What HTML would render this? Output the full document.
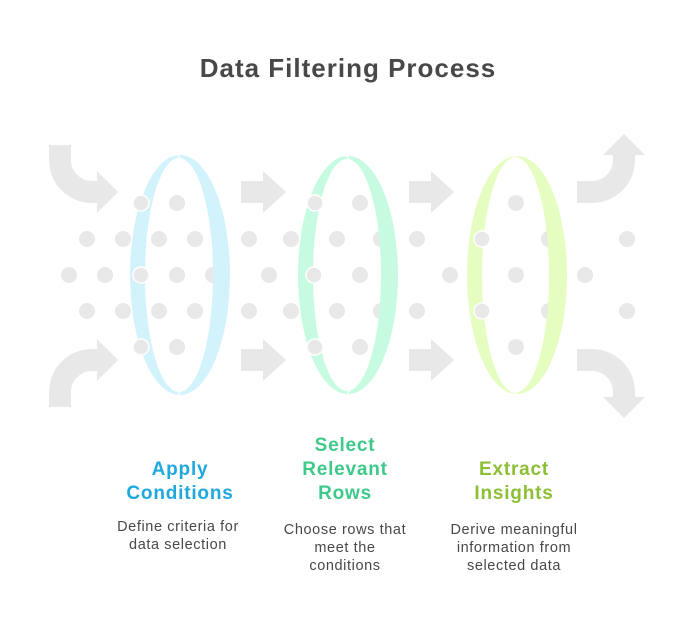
<!DOCTYPE html>
<html><head><meta charset="utf-8"><style>
html,body{margin:0;padding:0;background:#fff;}
svg{display:block}
text{font-family:"Liberation Sans",sans-serif;}
</style></head><body>
<svg width="696" height="624" viewBox="0 0 696 624" xmlns="http://www.w3.org/2000/svg">
<rect width="696" height="624" fill="#fff"/>
<text x="348" y="77" text-anchor="middle" font-size="26" font-weight="bold" fill="#484848" letter-spacing="1">Data Filtering Process</text>

<g fill="none" stroke="#e8e8e8" stroke-width="22">
<path d="M60 145 L60 160 A32 32 0 0 0 92 192 L99 192"/>
<path d="M60 407 L60 392 A32 32 0 0 1 92 360 L99 360"/>
<path d="M577 192 L592 192 A32 32 0 0 0 624 160 L624 154"/>
<path d="M577 360 L592 360 A32 32 0 0 1 624 392 L624 398"/>
</g>
<g fill="#e8e8e8">
<polygon points="97,171 118,192 97,213"/>
<polygon points="97,339 118,360 97,381"/>
<polygon points="603,155 624,134 645,155"/>
<polygon points="603,397 624,418 645,397"/>
<path d="M241 181 H263 V171 L286 192 L263 213 V203 H241Z"/>
<path d="M241 349 H263 V339 L286 360 L263 381 V371 H241Z"/>
<path d="M409 181 H431 V171 L454 192 L431 213 V203 H409Z"/>
<path d="M409 349 H431 V339 L454 360 L431 381 V371 H409Z"/>
</g>

<g fill="#e8e8e8">
<circle cx="177" cy="203" r="8"/>
<circle cx="87" cy="239" r="8"/><circle cx="123" cy="239" r="8"/><circle cx="159" cy="239" r="8"/><circle cx="195" cy="239" r="8"/>
<circle cx="69" cy="275" r="8"/><circle cx="105" cy="275" r="8"/><circle cx="177" cy="275" r="8"/><circle cx="213" cy="275" r="8"/>
<circle cx="87" cy="311" r="8"/><circle cx="123" cy="311" r="8"/><circle cx="159" cy="311" r="8"/><circle cx="195" cy="311" r="8"/>
<circle cx="177" cy="347" r="8"/>
<circle cx="360" cy="203" r="8"/>
<circle cx="249" cy="239" r="8"/><circle cx="291" cy="239" r="8"/><circle cx="337" cy="239" r="8"/><circle cx="381" cy="239" r="8"/><circle cx="417" cy="239" r="8"/>
<circle cx="269" cy="275" r="8"/><circle cx="360" cy="275" r="8"/><circle cx="450" cy="275" r="8"/>
<circle cx="249" cy="311" r="8"/><circle cx="291" cy="311" r="8"/><circle cx="337" cy="311" r="8"/><circle cx="381" cy="311" r="8"/><circle cx="417" cy="311" r="8"/>
<circle cx="360" cy="347" r="8"/>
<circle cx="516" cy="203" r="8"/>
<circle cx="549" cy="239" r="8"/><circle cx="627" cy="239" r="8"/>
<circle cx="516" cy="275" r="8"/><circle cx="585" cy="275" r="8"/>
<circle cx="549" cy="311" r="8"/><circle cx="627" cy="311" r="8"/>
<circle cx="516" cy="347" r="8"/>
</g>

<g fill-rule="evenodd">
<path fill="#d3f3fc" d="M130 275 A50 120 0 1 0 230 275 A50 120 0 1 0 130 275Z M145 275 A34 117 0 1 0 213 275 A34 117 0 1 0 145 275Z"/>
<path fill="#c6fbe2" d="M298 275 A50 119 0 1 0 398 275 A50 119 0 1 0 298 275Z M313 275 A34 116 0 1 0 381 275 A34 116 0 1 0 313 275Z"/>
<path fill="#e6fdc1" d="M467 275 A50 119 0 1 0 567 275 A50 119 0 1 0 467 275Z M482 275 A33 116 0 1 0 549 275 A33 116 0 1 0 482 275Z"/>
</g>
<g stroke="#fff" stroke-width="1.5">
<line x1="178" y1="155" x2="183" y2="163"/><line x1="178" y1="395" x2="183" y2="387"/>
<line x1="347" y1="156" x2="352" y2="164"/><line x1="347" y1="394" x2="352" y2="386"/>
<line x1="514" y1="156" x2="519" y2="164"/><line x1="514" y1="394" x2="519" y2="386"/>
</g>
<g fill="#e8e8e8" stroke="#fff" stroke-width="1.5">
<circle cx="141" cy="203" r="8"/><circle cx="141" cy="275" r="8"/><circle cx="141" cy="347" r="8"/>
<circle cx="315" cy="203" r="8"/><circle cx="314" cy="275" r="8"/><circle cx="315" cy="347" r="8"/>
<circle cx="482" cy="239" r="8"/><circle cx="482" cy="311" r="8"/>
</g>

<g font-size="19" font-weight="bold" text-anchor="middle" letter-spacing="0.8">
<text x="180" y="475" fill="#1fa8dd">Apply</text>
<text x="180" y="499" fill="#1fa8dd">Conditions</text>
<text x="345" y="451" fill="#3ec98b">Select</text>
<text x="345" y="475" fill="#3ec98b">Relevant</text>
<text x="345" y="499" fill="#3ec98b">Rows</text>
<text x="514" y="475" fill="#8cbf35">Extract</text>
<text x="514" y="499" fill="#8cbf35">Insights</text>
</g>
<g font-size="14.5" text-anchor="middle" fill="#484848" letter-spacing="0.6">
<text x="178" y="531">Define criteria for</text>
<text x="178" y="549">data selection</text>
<text x="345" y="534">Choose rows that</text>
<text x="345" y="552">meet the</text>
<text x="345" y="570">conditions</text>
<text x="514" y="534">Derive meaningful</text>
<text x="514" y="552">information from</text>
<text x="514" y="570">selected data</text>
</g>
</svg>
</body></html>
